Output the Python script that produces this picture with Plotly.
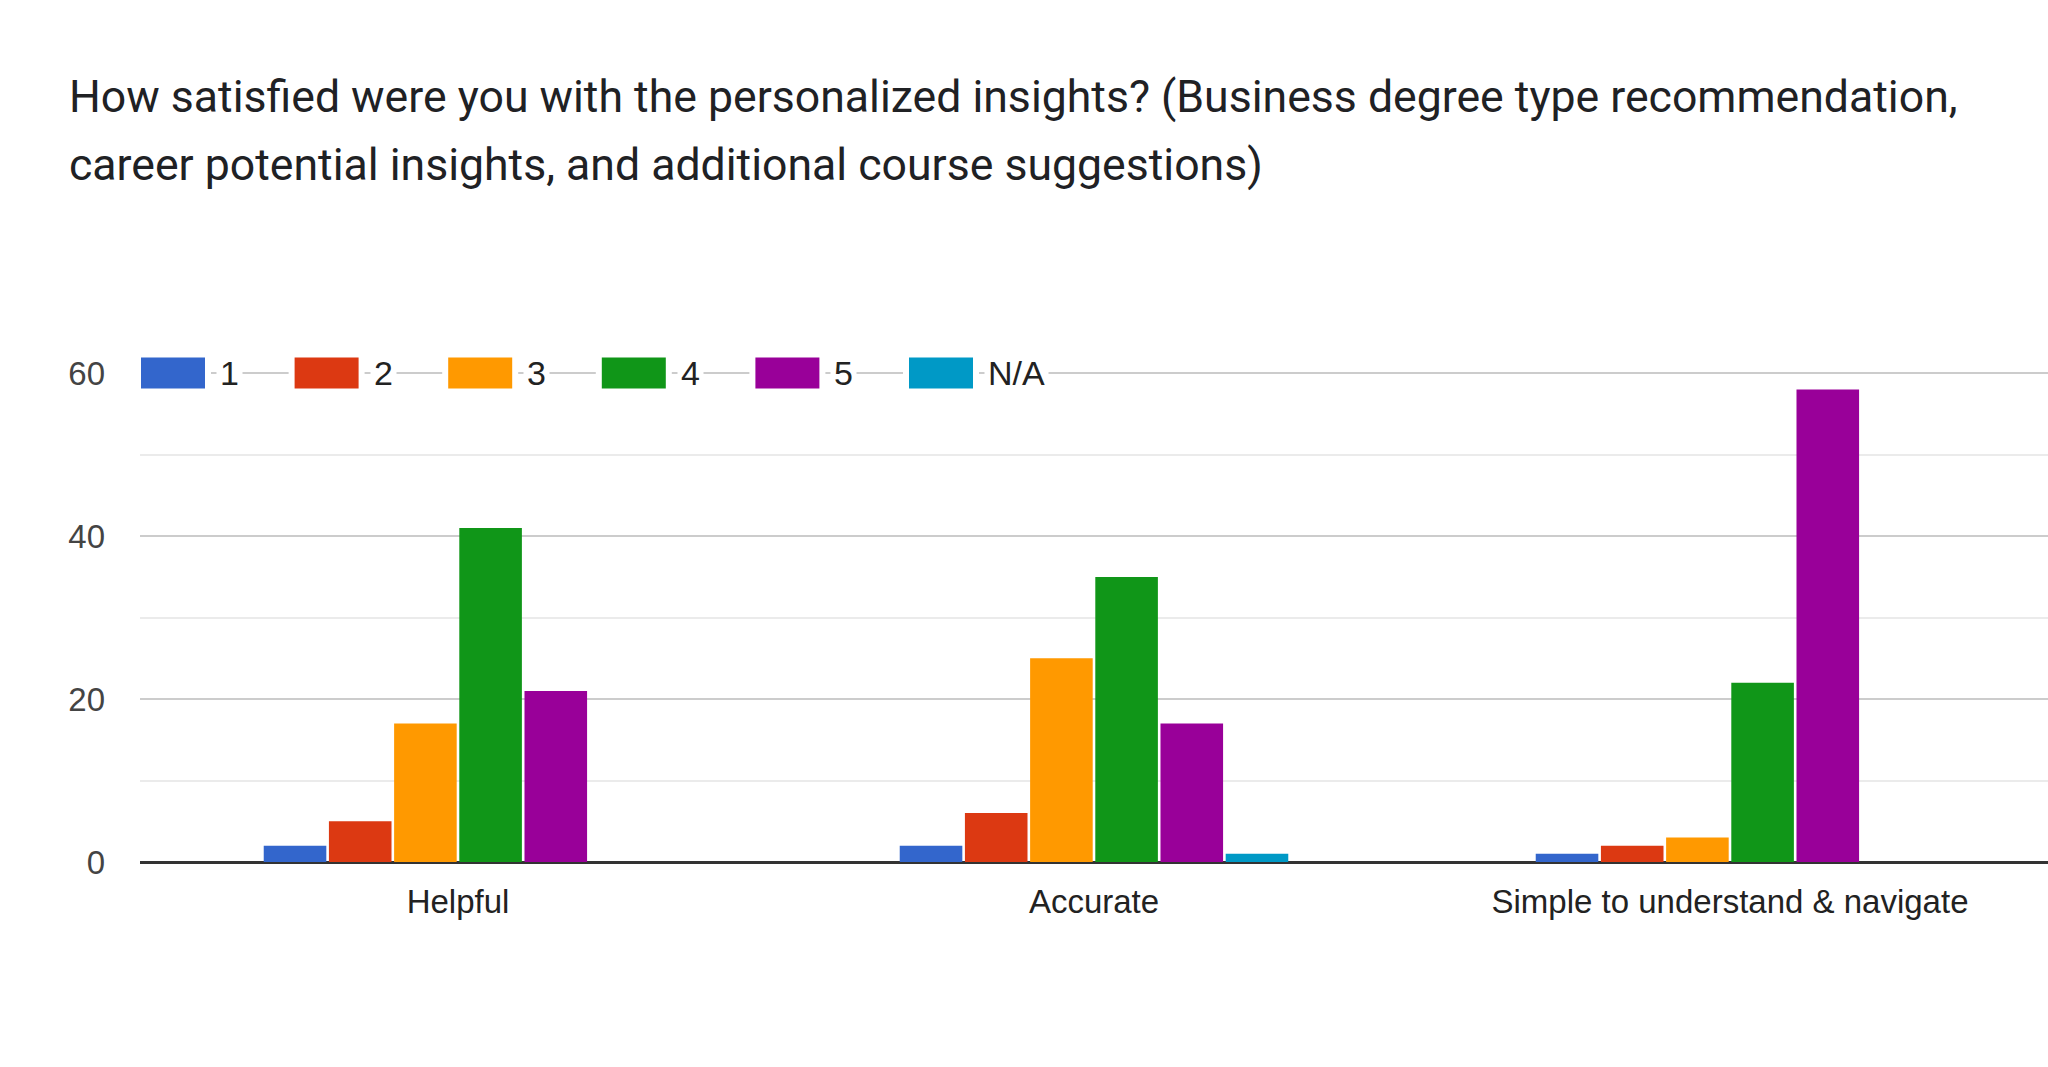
import plotly.graph_objects as go

categories = ["Helpful", "Accurate", "Simple to understand &amp; navigate"]
series_names = ["1", "2", "3", "4", "5", "N/A"]
values_1 = [2, 2, 1]
values_2 = [5, 6, 2]
values_3 = [17, 25, 3]
values_4 = [41, 35, 22]
values_5 = [21, 17, 58]
values_na = [0, 1, 0]
y_ticks = [0, 20, 40, 60]
title_lines = ["How satisfied were you with the personalized insights? (Business degree type recommendation,",
               "career potential insights, and additional course suggestions)"]

series_values = [values_1, values_2, values_3, values_4, values_5, values_na]
colors = ["#3366cc", "#dc3912", "#ff9900", "#109618", "#990099", "#0099c6"]

W, H = 2048, 1067
L, R, T, B = 140, 0, 372, 205
plot_w = W - L - R
plot_h = H - T - B
y_top = 60.15

fig = go.Figure()
for name, vals, col in zip(series_names, series_values, colors):
    fig.add_trace(go.Bar(
        x=categories, y=vals, name=name,
        marker=dict(color=col, line=dict(width=0)),
        showlegend=False,
    ))

def py_to_paper(py):
    return (H - B - py) / plot_h

def px_to_paper(px):
    return (px - L) / plot_w

# Custom legend drawn along the top (60) gridline
shapes = []
annotations = []
item_step = 153.6
sq_w, sq_h = 64, 31
pad = 6
legend_y = py_to_paper(373)
for i, (name, col) in enumerate(zip(series_names, colors)):
    left = L + 1 + i * item_step
    shapes.append(dict(type="rect", xref="paper", yref="paper",
                       xsizemode="pixel", ysizemode="pixel",
                       xanchor=px_to_paper(left), yanchor=legend_y,
                       x0=-pad, x1=sq_w + pad, y0=-sq_h / 2 - pad, y1=sq_h / 2 + pad,
                       fillcolor="white", line=dict(width=0), layer="above"))
    shapes.append(dict(type="rect", xref="paper", yref="paper",
                       xsizemode="pixel", ysizemode="pixel",
                       xanchor=px_to_paper(left), yanchor=legend_y,
                       x0=0, x1=sq_w, y0=-sq_h / 2, y1=sq_h / 2,
                       fillcolor=col, line=dict(width=0), layer="above"))
    annotations.append(dict(text=name, xref="paper", yref="paper",
                            x=px_to_paper(left + sq_w + 11), y=legend_y,
                            xanchor="left", yanchor="middle", showarrow=False,
                            bgcolor="white", borderpad=3,
                            font=dict(family="Liberation Sans, Arial", size=34, color="#222222")))

# Title, two lines with Google-Forms style line spacing
for line, cy in zip(title_lines, [97, 165]):
    annotations.append(dict(text=line, xref="paper", yref="paper",
                            x=px_to_paper(67), y=py_to_paper(cy),
                            xanchor="left", yanchor="middle", showarrow=False,
                            font=dict(family="Roboto", size=44.6, color="#202124")))

fig.update_layout(
    width=W, height=H,
    margin=dict(l=L, r=R, t=T, b=B, pad=0),
    paper_bgcolor="white", plot_bgcolor="white",
    barmode="group", bargap=0.385, bargroupgap=0.04,
    font=dict(family="Liberation Sans, Arial", size=33, color="#222222"),
    shapes=shapes, annotations=annotations,
    showlegend=False,
)
fig.update_yaxes(range=[0, y_top], tickvals=y_ticks, ticktext=[str(v) for v in y_ticks],
                 showgrid=True, gridcolor="#cccccc", gridwidth=2,
                 minor=dict(dtick=10, showgrid=True, gridcolor="#ebebeb", gridwidth=2),
                 zeroline=True, zerolinecolor="#333333", zerolinewidth=3,
                 tickfont=dict(family="Liberation Sans, Arial", size=33, color="#444444"),
                 ticks="", ticklabelstandoff=34, fixedrange=True)
fig.update_xaxes(showgrid=False, showline=False, ticks="",
                 tickfont=dict(family="Liberation Sans, Arial", size=33, color="#222222"),
                 ticklabelstandoff=17, fixedrange=True)

fig.write_html("out.html", config={"displayModeBar": False},
               post_script="document.body.style.margin='0';document.body.style.overflow='hidden';")
